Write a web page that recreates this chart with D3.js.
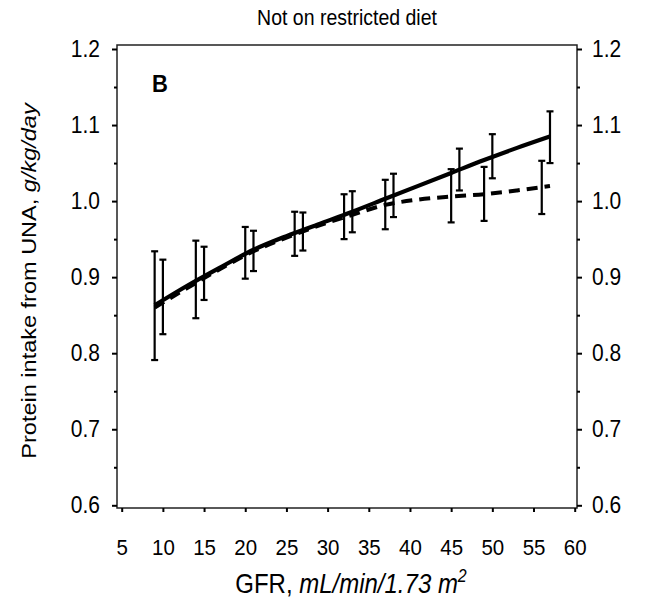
<!DOCTYPE html>
<html>
<head>
<meta charset="utf-8">
<script src="https://cdn.jsdelivr.net/npm/d3@7"></script>
<style>
  body { margin: 0; background: #fff; }
  svg text { font-family: "Liberation Sans", Arial, sans-serif; fill: #000; }
</style>
</head>
<body>
<div id="chart"></div>
<script>
var width = 653;
var height = 609;

// error bar groups (dashed series sits 1 unit left of the solid one)
var gfrDashed  = [9, 14, 20, 26, 32, 37, 45, 49, 56];
var meanDashed = [0.863, 0.897, 0.932, 0.957, 0.979, 0.995, 1.007, 1.007, 1.018];
var lowDashed  = [0.791, 0.846, 0.898, 0.928, 0.950, 0.963, 0.972, 0.974, 0.983];
var highDashed = [0.934, 0.948, 0.966, 0.986, 1.009, 1.028, 1.042, 1.045, 1.053];

var gfrSolid  = [10, 15, 21, 27, 33, 38, 46, 50, 57];
var meanSolid = [0.874, 0.905, 0.935, 0.960, 0.986, 1.008, 1.042, 1.059, 1.083];
var lowSolid  = [0.825, 0.870, 0.908, 0.935, 0.959, 0.979, 1.014, 1.030, 1.050];
var highSolid = [0.923, 0.940, 0.961, 0.985, 1.013, 1.036, 1.069, 1.088, 1.118];

// fitted curves
var fitGfr    = [9, 13, 17, 21, 25, 29, 33, 37, 41, 45, 49, 53, 57];
var fitSolid  = [0.863, 0.889, 0.913, 0.936, 0.954, 0.970, 0.986, 1.003, 1.020, 1.037, 1.054, 1.070, 1.085];
var fitDashed = [0.860, 0.886, 0.911, 0.934, 0.952, 0.968, 0.982, 0.995, 1.002, 1.006, 1.009, 1.014, 1.020];

var xTicks = [5, 10, 15, 20, 25, 30, 35, 40, 45, 50, 55, 60];
var yTicks = [0.6, 0.65, 0.7, 0.75, 0.8, 0.85, 0.9, 0.95, 1.0, 1.05, 1.1, 1.15, 1.2];

var box = {left: 117, right: 577, top: 45, bottom: 508};
var stretch = 1.12; // the scan's lettering is taller than wide

var svg = d3.select("#chart")
            .append("svg")
            .attr("width", width)
            .attr("height", height);

var xScale = d3.scaleLinear()
               .domain([5, 60])
               .range([121.7, 574.7]);
var yScale = d3.scaleLinear()
               .domain([0.6, 1.2])
               .range([505.3, 49]);

function isMajor(v) { return Math.abs(Math.round(v * 10) - v * 10) < 1e-6; }

// move x/y into a transform so the glyphs can be stretched vertically
function tallText(sel) {
  sel.each(function() {
    var t = d3.select(this);
    var x = +t.attr("x") || 0, y = +t.attr("y") || 0;
    t.attr("x", 0).attr("y", 0)
     .attr("transform", "translate(" + x + "," + y + ") scale(1," + stretch + ")");
  });
}

// frame
svg.append("rect")
   .attr("x", box.left)
   .attr("y", box.top)
   .attr("width", box.right - box.left)
   .attr("height", box.bottom - box.top)
   .attr("fill", "none")
   .attr("stroke", "#222")
   .attr("stroke-width", 1.5);

// x axis
var xAxis = d3.axisBottom(xScale)
              .tickValues(xTicks)
              .tickSize(4)
              .tickPadding(27)
              .tickFormat(d3.format("d"));
var gx = svg.append("g")
            .attr("transform", "translate(0," + box.bottom + ")")
            .call(xAxis);
gx.select(".domain").remove();
gx.selectAll("line").attr("stroke", "#000").attr("stroke-width", 2);
gx.selectAll("text").style("font-size", "20.5px").call(tallText);

// y axes, left and right
var yFmt = function(d) { return isMajor(d) ? d3.format(".1f")(d) : ""; };
var gyl = svg.append("g")
             .attr("transform", "translate(" + box.left + ",0)")
             .call(d3.axisLeft(yScale).tickValues(yTicks).tickSize(5).tickPadding(12).tickFormat(yFmt));
var gyr = svg.append("g")
             .attr("transform", "translate(" + box.right + ",0)")
             .call(d3.axisRight(yScale).tickValues(yTicks).tickSize(5).tickPadding(10).tickFormat(yFmt));
[gyl, gyr].forEach(function(g, k) {
  g.select(".domain").remove();
  g.selectAll(".tick line")
   .attr("stroke", "#000")
   .attr("stroke-width", 2)
   .attr("x2", function(d) { var s = isMajor(d) ? 5 : 3; return k == 0 ? -s : s; });
  g.selectAll("text").style("font-size", "21px").call(tallText);
});

// fitted lines
var line = d3.line()
             .x(function(d) { return xScale(d.x); })
             .y(function(d) { return yScale(d.y); })
             .curve(d3.curveMonotoneX);
var dashedPts = fitGfr.map(function(g, i) { return {x: g, y: fitDashed[i]}; });
var solidPts = fitGfr.map(function(g, i) { return {x: g, y: fitSolid[i]}; });

svg.append("path")
   .datum(dashedPts)
   .attr("d", line)
   .attr("fill", "none")
   .attr("stroke", "#000")
   .attr("stroke-width", 4)
   .attr("stroke-dasharray", "11,7");
svg.append("path")
   .datum(solidPts)
   .attr("d", line)
   .attr("fill", "none")
   .attr("stroke", "#000")
   .attr("stroke-width", 4.2);

// error bars
var bars = [];
gfrDashed.forEach(function(g, i) { bars.push({x: g, lo: lowDashed[i], hi: highDashed[i]}); });
gfrSolid.forEach(function(g, i) { bars.push({x: g, lo: lowSolid[i], hi: highSolid[i]}); });

var eb = svg.append("g").attr("stroke", "#000").attr("stroke-width", 2.2);
eb.selectAll(".stem").data(bars).enter().append("line")
  .attr("x1", function(d) { return xScale(d.x); })
  .attr("x2", function(d) { return xScale(d.x); })
  .attr("y1", function(d) { return yScale(d.lo); })
  .attr("y2", function(d) { return yScale(d.hi); });
eb.selectAll(".capHi").data(bars).enter().append("line")
  .attr("x1", function(d) { return xScale(d.x) - 3.5; })
  .attr("x2", function(d) { return xScale(d.x) + 3.5; })
  .attr("y1", function(d) { return yScale(d.hi); })
  .attr("y2", function(d) { return yScale(d.hi); });
eb.selectAll(".capLo").data(bars).enter().append("line")
  .attr("x1", function(d) { return xScale(d.x) - 3.5; })
  .attr("x2", function(d) { return xScale(d.x) + 3.5; })
  .attr("y1", function(d) { return yScale(d.lo); })
  .attr("y2", function(d) { return yScale(d.lo); });

// texts
svg.append("text")
   .attr("x", 347).attr("y", 25)
   .attr("text-anchor", "middle")
   .style("font-size", "19.5px")
   .text("Not on restricted diet")
   .call(tallText);

svg.append("text")
   .attr("x", 152).attr("y", 92)
   .style("font-size", "22px")
   .style("font-weight", "bold")
   .text("B")
   .call(tallText);

var yl = svg.append("text")
   .attr("transform", "translate(36,281) rotate(-90) scale(" + stretch + ",1)")
   .attr("text-anchor", "middle")
   .style("font-size", "21px");
yl.append("tspan").text("Protein intake from UNA, ");
yl.append("tspan").style("font-style", "italic").text("g/kg/day");

var xl = svg.append("text")
   .attr("x", 351).attr("y", 593)
   .attr("text-anchor", "middle")
   .style("font-size", "24px");
xl.append("tspan").text("GFR, ");
xl.append("tspan").style("font-style", "italic").text("mL/min/1.73 m");
xl.append("tspan").style("font-style", "italic").style("font-size", "16px").attr("dy", -10).text("2");
xl.call(tallText);
</script>
</body>
</html>
